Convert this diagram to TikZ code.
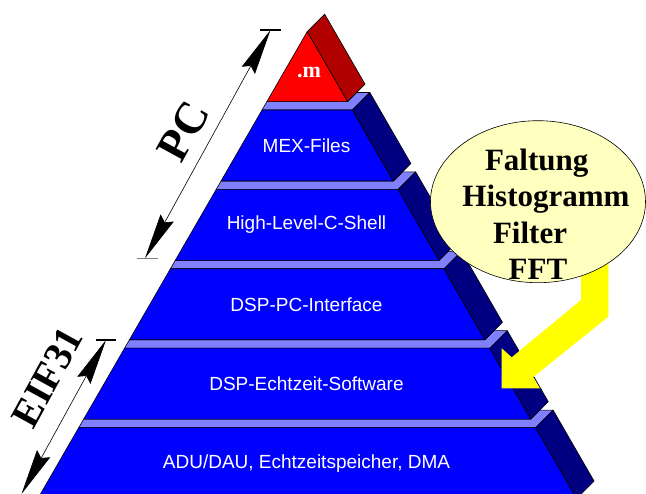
\documentclass[tikz,border=0pt]{standalone}
\usepackage{fontspec}
\setmainfont{Liberation Serif}
\newfontfamily\sansf{Liberation Sans}
\usetikzlibrary{arrows.meta,shapes.geometric}
\definecolor{frontblue}{RGB}{0,0,255}
\definecolor{stripblue}{RGB}{128,128,255}
\definecolor{sideblue}{RGB}{0,0,128}
\definecolor{redfront}{RGB}{255,0,0}
\definecolor{redside}{RGB}{176,0,0}
\definecolor{ellfill}{RGB}{255,255,192}
\definecolor{arrowyellow}{RGB}{255,255,0}
\definecolor{tickgray}{RGB}{128,128,128}
\begin{document}
\begin{tikzpicture}[x=1pt,y=-1pt,
  facebox/.style={draw=black,line width=0.6pt,line join=round},
  layerlabel/.style={text=white,font=\sansf\fontsize{19}{19}\selectfont,inner sep=0pt},
  bigserif/.style={font=\bfseries\fontsize{31}{31}\selectfont,inner sep=0pt,anchor=base},
  dimarrow/.style={line width=0.6pt,{Stealth[length=46pt,width=15pt,inset=5pt]}-{Stealth[length=46pt,width=15pt,inset=5pt]}},
  dimtick/.style={line width=1.5pt}]
\useasboundingbox (0,0) rectangle (646,494);
\begin{scope}
\clip (0,0) rectangle (646,494);
% pyramid layers, bottom to top
\foreach \k in {4,3,2,1,0} {
  \pgfmathsetmacro\t{110+79.4*\k}
  \pgfmathsetmacro\b{\t+71}
  \pgfmathsetmacro\u{\t-8.4}
  \pgfmathsetmacro\Lt{307.2-0.577*(\t-31.7)}
  \pgfmathsetmacro\Rt{307.2+0.577*(\t-31.7)}
  \pgfmathsetmacro\Lb{307.2-0.577*(\b-31.7)}
  \pgfmathsetmacro\Rb{307.2+0.577*(\b-31.7)}
  \pgfmathsetmacro\Lu{307.2-0.577*(\u-31.7)}
  \pgfmathsetmacro\Ru{307.2+0.577*(\u-31.7)}
  \pgfmathsetmacro\td{\t-17.5}
  \pgfmathsetmacro\bd{\b-17.5}
  \pgfmathsetmacro\Rtd{\Rt+17.5}
  \pgfmathsetmacro\Rbd{\Rb+17.5}
  \pgfmathsetmacro\Rq{\Ru+(\u-\td)}
  % visible top strip
  \draw[facebox,fill=stripblue] (\Lt,\t) -- (\Rt,\t) -- (\Rtd,\td) -- (\Rq,\td) -- (\Ru,\u) -- (\Lu,\u) -- cycle;
  % front face
  \draw[facebox,fill=frontblue] (\Lt,\t) -- (\Rt,\t) -- (\Rb,\b) -- (\Lb,\b) -- cycle;
  % side face
  \draw[facebox,fill=sideblue] (\Rt,\t) -- (\Rb,\b) -- (\Rbd,\bd) -- (\Rtd,\td) -- cycle;
}
% red top
\draw[facebox,fill=redside] (307.2,31.7) -- (347.5,101.6) -- (365,84.1) -- (324.7,14.2) -- cycle;
\draw[facebox,fill=redfront] (307.2,31.7) -- (347.5,101.6) -- (266.9,101.6) -- cycle;
\end{scope}
\node[text=white,font=\bfseries\fontsize{22}{22}\selectfont,inner sep=0pt] (mfile) at (309,72) {.m};
\node[layerlabel] (mex) at (306.5,145.5) {MEX-Files};
\node[layerlabel] (hlc) at (306.5,224.9) {High-Level-C-Shell};
\node[layerlabel] (dsppc) at (306.5,304.3) {DSP-PC-Interface};
\node[layerlabel] (dspe) at (306.5,383.7) {DSP-Echtzeit-Software};
\node[layerlabel] (adu) at (306.5,463.1) {ADU/DAU, Echtzeitspeicher, DMA};
% yellow arrow
\fill[arrowyellow] (581,250) -- (608.3,250) -- (608.3,316.7) -- (533.3,377) -- (540,388.3) -- (501.7,388.3) -- (501.7,348.3) -- (511.7,357.3) -- (581,300) -- cycle;
% ellipse
\node[ellipse,draw=black,line width=0.6pt,fill=ellfill,minimum width=215pt,minimum height=162pt,inner sep=0pt] (ell) at (538,201.7) {};
\node[bigserif] (t1) at (536.7,170.7) {Faltung};
\node[bigserif] (t2) at (546,206.7) {Histogramm};
\node[bigserif] (t3) at (530,244) {Filter};
\node[bigserif] (t4) at (538,280) {FFT};
% dimension arrows
\coordinate (pctop) at (270.5,30);
\coordinate (pcbot) at (145,258.3);
\draw[dimtick] (260,30) -- (281,30);
\draw[dimtick,tickgray] (136.5,258.3) -- (157.5,258.3);
\draw[dimarrow] (pcbot) -- (pctop);
\node[font=\bfseries\fontsize{45}{45}\selectfont,rotate=61.2,inner sep=0pt] (pc) at (183.5,131.5) {PC};
\coordinate (eiftop) at (106,340);
\coordinate (eifbot) at (21.5,494);
\draw[dimtick] (96,340) -- (116,340);
\draw[dimarrow] (eifbot) -- (eiftop);
\node[font=\bfseries\fontsize{40}{40}\selectfont,rotate=61.2,inner sep=0pt] (eif) at (47.5,377) {EIF31};
\end{tikzpicture}
\end{document}
